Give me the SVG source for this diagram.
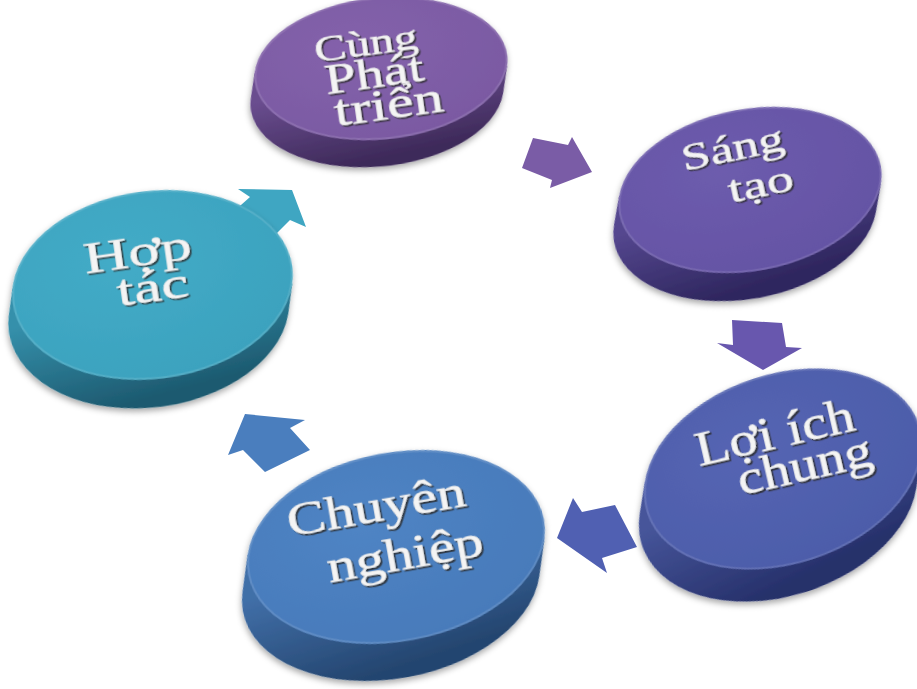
<svg xmlns="http://www.w3.org/2000/svg" width="917" height="689" viewBox="0 0 917 689">
<defs>
<filter id="dsh" x="-10%" y="-10%" width="120%" height="130%">
<feDropShadow dx="-1" dy="3" stdDeviation="3" flood-color="#000" flood-opacity="0.35"/>
</filter>
<filter id="emb" x="-10%" y="-20%" width="130%" height="150%">
<feDropShadow dx="1.6" dy="2.4" stdDeviation="0.5" flood-color="#2a2a2a" flood-opacity="0.85"/>
</filter>
<linearGradient id="s1" x1="0" y1="0.3" x2="0.2" y2="1"><stop offset="0" stop-color="#6a4d8f"/><stop offset="1" stop-color="#3e2a5a"/></linearGradient>
<linearGradient id="s2" x1="0" y1="0.3" x2="0.2" y2="1"><stop offset="0" stop-color="#55478f"/><stop offset="1" stop-color="#2e265e"/></linearGradient>
<linearGradient id="s3" x1="0" y1="0.3" x2="0.2" y2="1"><stop offset="0" stop-color="#46559a"/><stop offset="1" stop-color="#26306a"/></linearGradient>
<linearGradient id="s4" x1="0" y1="0.3" x2="0.2" y2="1"><stop offset="0" stop-color="#416fa8"/><stop offset="1" stop-color="#24456f"/></linearGradient>
<linearGradient id="s5" x1="0" y1="0.3" x2="0.2" y2="1"><stop offset="0" stop-color="#3590ab"/><stop offset="1" stop-color="#1d5a70"/></linearGradient>
<radialGradient id="t1" cx="0.4" cy="0.35" r="0.7"><stop offset="0" stop-color="#8462ab"/><stop offset="1" stop-color="#7a59a2"/></radialGradient>
<radialGradient id="t2" cx="0.4" cy="0.35" r="0.7"><stop offset="0" stop-color="#6d5cad"/><stop offset="1" stop-color="#6453a4"/></radialGradient>
<radialGradient id="t3" cx="0.4" cy="0.35" r="0.7"><stop offset="0" stop-color="#5565b3"/><stop offset="1" stop-color="#4c5ca9"/></radialGradient>
<radialGradient id="t4" cx="0.4" cy="0.35" r="0.7"><stop offset="0" stop-color="#4f84c4"/><stop offset="1" stop-color="#477aba"/></radialGradient>
<radialGradient id="t5" cx="0.4" cy="0.35" r="0.7"><stop offset="0" stop-color="#43abc7"/><stop offset="1" stop-color="#3ba2be"/></radialGradient>
</defs>
<style>
.lbl{font-family:"Liberation Serif","Times New Roman",serif;fill:#f4f4f4;stroke:#e6e6e6;stroke-width:0.7;text-anchor:middle;filter:url(#emb)}
.rim{fill:none;stroke:#ffffff;stroke-opacity:0.12;stroke-width:2}
</style>

<g id="connectors">
<polygon points="232,213 250,197 238,189 292,190 306,227 290,220 272,238" fill="#3fa6c2"/>
<polygon points="533,138 568,145 572,137 592,172 550,188 552,180 522,168" fill="#7a5ca6"/>
<polygon points="732,320 782,323 786,347 802,348 763,370 717,343 733,345" fill="#6857ae"/>
<polygon points="573,498 582,512 615,505 637,547 602,558 607,573 557,538" fill="#5060b2"/>
<polygon points="245,414 305,420 290,428 310,450 265,472 243,450 228,455" fill="#4a7ebe"/>
</g>

<g id="node-cung-phat-trien" filter="url(#dsh)" transform="translate(381,68.5) rotate(-5.6)">
<path d="M-125.8,-9.83 L-132.4,16.65 A127 71 0 0 0 119.2,36.31 L125.8,9.83 Z" fill="url(#s1)"/>
<ellipse rx="127" ry="71" fill="url(#t1)"/>
<ellipse class="rim" rx="126" ry="70"/>
</g>
<g id="node-sang-tao" filter="url(#dsh)" transform="translate(750,190) rotate(-10.4)">
<path d="M-129.7,-18 L-139.7,8.64 A133 81 0 0 0 119.7,44.64 L129.7,18 Z" fill="url(#s2)"/>
<ellipse rx="133" ry="81" fill="url(#t2)"/>
<ellipse class="rim" rx="132" ry="80"/>
</g>
<g id="node-loi-ich-chung" filter="url(#dsh)" transform="translate(783,469) rotate(-18)">
<path d="M-135.5,-30.3 L-150.2,-1.4 A143 95 0 0 0 120.9,59.2 L135.5,30.3 Z" fill="url(#s3)"/>
<ellipse rx="143" ry="95" fill="url(#t3)"/>
<ellipse class="rim" rx="142" ry="94"/>
</g>
<g id="node-chuyen-nghiep" filter="url(#dsh)" transform="translate(396,547) rotate(-10.5)">
<path d="M-147.4,-19.14 L-159.1,16.33 A150.5 94.6 0 0 0 135.7,54.61 L147.4,19.14 Z" fill="url(#s4)"/>
<ellipse rx="150.5" ry="94.6" fill="url(#t4)"/>
<ellipse class="rim" rx="149.5" ry="93.6"/>
</g>
<g id="node-hop-tac" filter="url(#dsh)" transform="translate(152.5,285) rotate(-7.35)">
<path d="M-138.8,-16.47 L-146.6,12.77 A141 94 0 0 0 131,45.71 L138.8,16.47 Z" fill="url(#s5)"/>
<ellipse rx="141" ry="94" fill="url(#t5)"/>
<ellipse class="rim" rx="140" ry="93"/>
</g>

<g id="labels">
<g transform="translate(378,87) rotate(-8) scale(1,0.74)">
<text class="lbl" x="-6" y="-45" font-size="48">Cùng</text>
<text class="lbl" x="-2" y="0" font-size="56">Phát</text>
<text class="lbl" x="8" y="45" font-size="60">triển</text>
</g>
<g transform="translate(748,178) rotate(-12) scale(1,0.72)">
<text class="lbl" x="-9" y="-28" font-size="52">Sáng</text>
<text class="lbl" x="11" y="29" font-size="54">tạo</text>
</g>
<g transform="translate(793,464) rotate(-13) scale(1,0.85)">
<text class="lbl" x="-11" y="-22" font-size="56">Lợi ích</text>
<text class="lbl" x="11" y="22" font-size="56">chung</text>
</g>
<g transform="translate(393,545) rotate(-10) scale(1,0.8)">
<text class="lbl" x="-10" y="-33" font-size="58">Chuyên</text>
<text class="lbl" x="10" y="33" font-size="58">nghiệp</text>
</g>
<g transform="translate(148,284) rotate(-8) scale(1,0.7)">
<text class="lbl" x="-6" y="-27" font-size="62">Hợp</text>
<text class="lbl" x="4" y="25" font-size="62">tác</text>
</g>
</g>
</svg>
